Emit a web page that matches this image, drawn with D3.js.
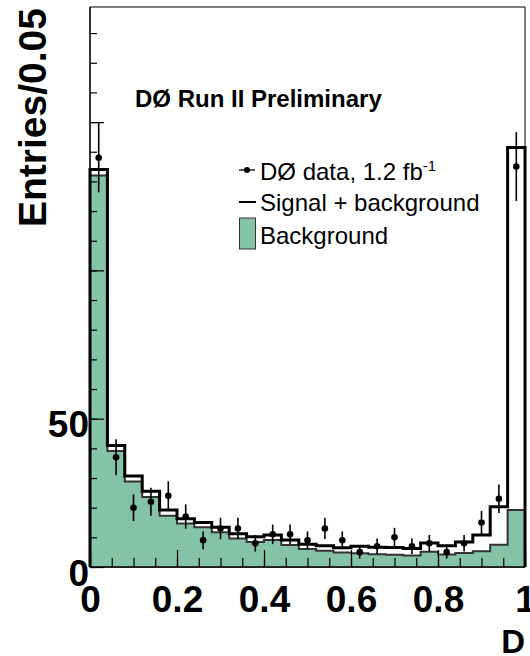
<!DOCTYPE html>
<html>
<head>
<meta charset="utf-8">
<script src="https://cdn.jsdelivr.net/npm/d3@7"></script>
<style>
body { margin: 0; background: #fff; }
svg { display: block; font-family: 'Liberation Sans', Arial, Helvetica, sans-serif; }
</style>
</head>
<body>
<svg id="chart"></svg>
<script>
'use strict';

// bins of 0.04 on the discriminant output
var binLow = [0, 0.04, 0.08, 0.12, 0.16, 0.2, 0.24, 0.28, 0.32, 0.36,
  0.4, 0.44, 0.48, 0.52, 0.56, 0.6, 0.64, 0.68, 0.72, 0.76,
  0.8, 0.84, 0.88, 0.92, 0.96];
var binWidth = 0.04;

var dataCounts = [138, 37, 20, 22, 24, 17, 9, 13, 13, 8,
  11, 11, 9, 13, 9, 5, 7, 10, 7, 8,
  5, 8, 15, 23, 135];
var dataErrors = [11.7, 6.1, 4.5, 4.7, 4.9, 4.1, 3.0, 3.6, 3.6, 2.8,
  3.3, 3.3, 3.0, 3.6, 3.0, 2.2, 2.6, 3.2, 2.6, 2.8,
  2.2, 2.8, 3.9, 4.8, 11.6];
var sigPlusBkg = [134, 41, 30.7, 25.5, 19.2, 16.3, 15.0, 13.4, 11.2, 10.2,
  10.8, 9.1, 7.7, 7.2, 6.5, 7.0, 6.7, 6.6, 6.2, 8.1,
  7.2, 8.4, 10.8, 20.3, 141.4];
var background = [132, 39.1, 28.8, 23.6, 17.3, 14.7, 13.4, 11.7, 9.6, 8.4,
  9.1, 7.4, 6.1, 5.5, 4.9, 4.6, 4.3, 4.1, 3.9, 5.1,
  4.2, 4.7, 5.3, 7.5, 19.2];

var xTicks = [0, 0.2, 0.4, 0.6, 0.8, 1];
var xTickLabels = ['0', '0.2', '0.4', '0.6', '0.8', '1'];
var yTicks = [0, 50, 100, 150];
var yTickLabels = ['0', '50', '', ''];

var legendLabels = ['DØ data, 1.2 fb', 'Signal + background', 'Background'];

var width = 530, height = 656;
var margin = {top: 7, right: 5, bottom: 89, left: 90};
var bkgColor = '#85c3a6';

var svg = d3.select('#chart')
  .attr('width', width)
  .attr('height', height);

var x = d3.scaleLinear()
  .domain([0, 1])
  .range([margin.left, width - margin.right]);
var y = d3.scaleLinear()
  .domain([0, 188.8])
  .range([height - margin.bottom, margin.top]);

function stepPoints(values) {
  var pts = [[0, 0]];
  values.forEach(function (v, i) {
    pts.push([binLow[i], v]);
    pts.push([binLow[i] + binWidth, v]);
  });
  pts.push([1, 0]);
  return pts;
}

var line = d3.line()
  .x(function (d) { return x(d[0]); })
  .y(function (d) { return y(d[1]); });
var area = d3.area()
  .x(function (d) { return x(d[0]); })
  .y0(y(0))
  .y1(function (d) { return y(d[1]); });

// frame
svg.append('rect')
  .attr('x', x(0))
  .attr('y', y.range()[1])
  .attr('width', x(1) - x(0))
  .attr('height', y(0) - y.range()[1])
  .attr('fill', 'none')
  .attr('stroke', '#000')
  .attr('stroke-width', 1);

// background histogram
svg.append('path')
  .attr('d', area(stepPoints(background)))
  .attr('fill', bkgColor);
svg.append('path')
  .attr('d', line(stepPoints(background)))
  .attr('fill', 'none')
  .attr('stroke', '#333')
  .attr('stroke-width', 2);

// signal + background
svg.append('path')
  .attr('d', line(stepPoints(sigPlusBkg)))
  .attr('fill', 'none')
  .attr('stroke', '#000')
  .attr('stroke-width', 3);

// axes
var xMinor = svg.append('g')
  .attr('transform', 'translate(0,' + y(0) + ')')
  .call(d3.axisBottom(x).tickValues(d3.range(0, 1.001, 0.05)).tickSize(-9).tickFormat(''));
var xMajor = svg.append('g')
  .attr('transform', 'translate(0,' + y(0) + ')')
  .call(d3.axisBottom(x).tickValues(xTicks).tickSize(-17).tickPadding(19)
    .tickFormat(function (d, i) { return xTickLabels[i]; }));
var yMinor = svg.append('g')
  .attr('transform', 'translate(' + x(0) + ',0)')
  .call(d3.axisLeft(y).tickValues(d3.range(0, 181, 10)).tickSize(-7).tickFormat(''));
var yMajor = svg.append('g')
  .attr('transform', 'translate(' + x(0) + ',0)')
  .call(d3.axisLeft(y).tickValues(yTicks).tickSize(-14).tickPadding(1)
    .tickFormat(function (d, i) { return yTickLabels[i]; }));

[xMinor, xMajor, yMinor, yMajor].forEach(function (g) {
  g.select('.domain').remove();
  g.selectAll('line').attr('stroke', '#000').attr('stroke-width', 1.2);
  g.selectAll('text')
    .attr('fill', '#000')
    .style('font-size', '37px')
    .style('font-weight', 'bold')
    .style('font-family', "'Liberation Sans', Arial, sans-serif");
});
yMajor.selectAll('text').attr('dy', '0.49em');

svg.append('line')
  .attr('x1', x(0)).attr('x2', x(1))
  .attr('y1', y(0)).attr('y2', y(0))
  .attr('stroke', '#000').attr('stroke-width', 1.5);
svg.append('line')
  .attr('x1', x(0)).attr('x2', x(0))
  .attr('y1', y(0)).attr('y2', y.range()[1])
  .attr('stroke', '#000').attr('stroke-width', 1.2);

// data points
var pts = svg.append('g').selectAll('g').data(dataCounts).enter().append('g');
pts.append('line')
  .attr('x1', function (d, i) { return x(binLow[i] + binWidth / 2); })
  .attr('x2', function (d, i) { return x(binLow[i] + binWidth / 2); })
  .attr('y1', function (d, i) { return y(d - dataErrors[i]); })
  .attr('y2', function (d, i) { return y(d + dataErrors[i]); })
  .attr('stroke', '#000')
  .attr('stroke-width', 1.6);
pts.append('circle')
  .attr('cx', function (d, i) { return x(binLow[i] + binWidth / 2); })
  .attr('cy', function (d) { return y(d); })
  .attr('r', 3.3)
  .attr('fill', '#000');

// labels
svg.append('text')
  .attr('transform', 'translate(46,8) rotate(-90)')
  .attr('text-anchor', 'end')
  .style('font-size', '39px')
  .style('font-weight', 'bold')
  .text('Entries/0.05');

svg.append('text')
  .attr('x', 525)
  .attr('y', 653)
  .attr('text-anchor', 'end')
  .style('font-size', '33px')
  .style('font-weight', 'bold')
  .text('D');

svg.append('text')
  .attr('x', 135)
  .attr('y', 107)
  .style('font-size', '24px')
  .style('font-weight', 'bold')
  .text('DØ Run II Preliminary');

// legend
var legendMarkY = [170, 202, 233.5];
var legendTextY = [180, 211, 244];
var leg = svg.append('g');

leg.append('line')
  .attr('x1', 239).attr('x2', 255)
  .attr('y1', legendMarkY[0]).attr('y2', legendMarkY[0])
  .attr('stroke', '#000').attr('stroke-width', 1.3);
leg.append('circle')
  .attr('cx', 247).attr('cy', legendMarkY[0]).attr('r', 3)
  .attr('fill', '#000');

leg.append('line')
  .attr('x1', 239).attr('x2', 256)
  .attr('y1', legendMarkY[1]).attr('y2', legendMarkY[1])
  .attr('stroke', '#000').attr('stroke-width', 2);

leg.append('rect')
  .attr('x', 239.5).attr('y', legendMarkY[2] - 15.5)
  .attr('width', 16).attr('height', 31)
  .attr('fill', bkgColor)
  .attr('stroke', '#333')
  .attr('stroke-width', 1);

var legText = leg.selectAll('text.entry').data(legendLabels).enter()
  .append('text')
  .classed('entry', true)
  .attr('x', 260)
  .attr('y', function (d, i) { return legendTextY[i]; })
  .style('font-size', '24px')
  .text(function (d) { return d; });

legText.filter(function (d, i) { return i === 0; })
  .append('tspan')
  .attr('dy', -9)
  .style('font-size', '15px')
  .text('-1');
</script>
</body>
</html>
